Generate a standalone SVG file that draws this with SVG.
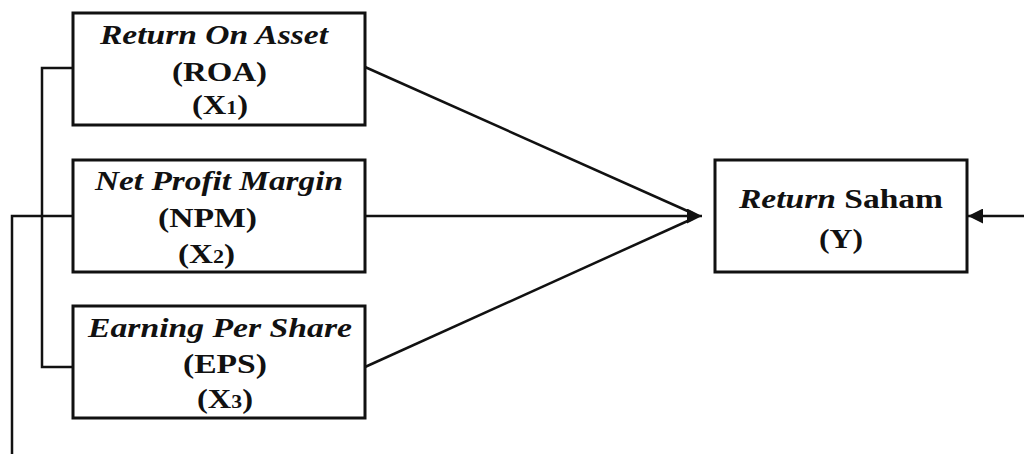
<svg xmlns="http://www.w3.org/2000/svg" width="1024" height="454" viewBox="0 0 1024 454">
  <style>
    .box { fill: #ffffff; stroke: #111111; stroke-width: 3; }
    .wire { fill: none; stroke: #111111; stroke-width: 2.5; }
    .t { font-family: "Liberation Serif", "Times New Roman", serif; font-weight: bold; font-size: 27px; fill: #111111; text-anchor: middle; }
    .i { font-style: italic; }
    .sub { font-size: 18px; }
  </style>
  <defs>
    <marker id="arrowBig" viewBox="0 0 10 10" refX="10" refY="5" markerWidth="15" markerHeight="15" markerUnits="userSpaceOnUse" orient="auto">
      <path d="M0,0 L10,5 L0,10 z" fill="#111111"/>
    </marker>
  </defs>
  <rect width="1024" height="454" fill="#ffffff"/>

  <g id="connectors">
    <!-- bracket joining X1 and X3 -->
    <polyline class="wire" points="73,68 42,68 42,367 73,367"/>
    <!-- line from X2 running down the left edge -->
    <polyline class="wire" points="73,216 12,216 12,454"/>
    <!-- independent variables to Y -->
    <line class="wire" x1="365" y1="67" x2="692" y2="213"/>
    <line class="wire" x1="365" y1="216" x2="702" y2="216" marker-end="url(#arrowBig)"/>
    <line class="wire" x1="365" y1="367" x2="692" y2="219"/>
    <!-- incoming line from the right -->
    <line class="wire" x1="1024" y1="216" x2="968" y2="216" marker-end="url(#arrowBig)"/>
  </g>

  <g id="roa">
    <rect class="box" x="73" y="13" width="292" height="112"/>
    <text class="t i" x="214" y="44" textLength="228" lengthAdjust="spacingAndGlyphs">Return On Asset</text>
    <text class="t" x="219.5" y="81" textLength="95" lengthAdjust="spacingAndGlyphs">(ROA)</text>
    <text class="t" x="220" y="114" textLength="56" lengthAdjust="spacingAndGlyphs">(X<tspan class="sub">1</tspan>)</text>
  </g>

  <g id="npm">
    <rect class="box" x="73" y="160" width="292" height="112"/>
    <text class="t i" x="219" y="190" textLength="248" lengthAdjust="spacingAndGlyphs">Net Profit Margin</text>
    <text class="t" x="207.5" y="227" textLength="99" lengthAdjust="spacingAndGlyphs">(NPM)</text>
    <text class="t" x="206.5" y="263" textLength="57" lengthAdjust="spacingAndGlyphs">(X<tspan class="sub">2</tspan>)</text>
  </g>

  <g id="eps">
    <rect class="box" x="73" y="306" width="292" height="112"/>
    <text class="t i" x="220" y="337" textLength="264" lengthAdjust="spacingAndGlyphs">Earning Per Share</text>
    <text class="t" x="225" y="373" textLength="84" lengthAdjust="spacingAndGlyphs">(EPS)</text>
    <text class="t" x="225" y="408" textLength="56" lengthAdjust="spacingAndGlyphs">(X<tspan class="sub">3</tspan>)</text>
  </g>

  <g id="return-saham">
    <rect class="box" x="715" y="160" width="252" height="112"/>
    <text class="t" x="841" y="208" textLength="204" lengthAdjust="spacingAndGlyphs"><tspan class="i">Return</tspan> Saham</text>
    <text class="t" x="841" y="248" textLength="44" lengthAdjust="spacingAndGlyphs">(Y)</text>
  </g>
</svg>
